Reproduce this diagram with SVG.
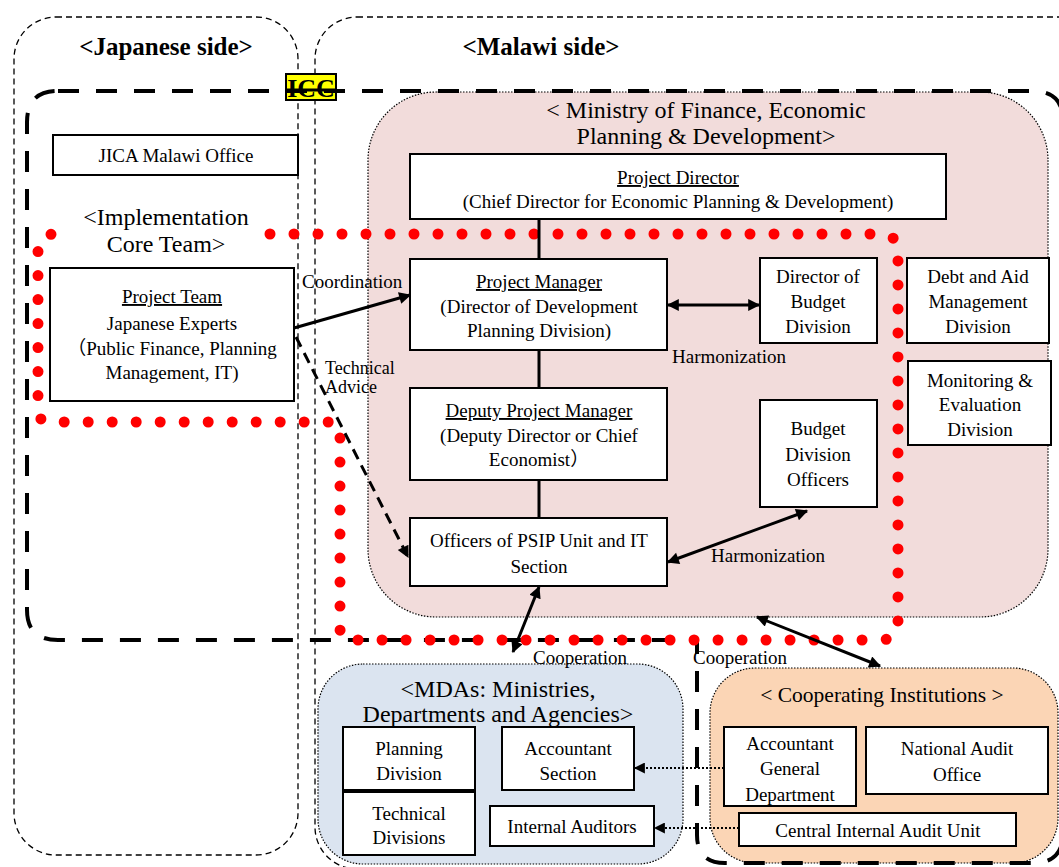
<svg xmlns="http://www.w3.org/2000/svg" width="1059" height="867" viewBox="0 0 1059 867">
  <defs>
    <style>
      .t{font-family:"Liberation Serif","Noto Sans CJK JP",serif;font-size:19px;fill:#000;text-anchor:middle}
      .s{text-anchor:start}
      .sm{font-size:18px}
      .ttl{font-size:24px}
      .hd{font-size:25px;font-weight:bold}
      .u{text-decoration:underline}
      .box{fill:#fff;stroke:#000;stroke-width:2}
      .side{fill:none;stroke:#000;stroke-width:1.3;stroke-dasharray:6 4}
      .grp{stroke:#000;stroke-width:1.2;stroke-dasharray:1.5 1.5}
      .ln{fill:none;stroke:#000;stroke-width:3}
      .dot{fill:none;stroke:#000;stroke-width:2;stroke-dasharray:2 2}
    </style>
    <marker id="ah" viewBox="0 0 10 10" refX="9" refY="5" markerWidth="15" markerHeight="12" markerUnits="userSpaceOnUse" orient="auto-start-reverse">
      <path d="M0,0 L10,5 L0,10 z" fill="#000"/>
    </marker>
    <marker id="ahs" viewBox="0 0 10 10" refX="9" refY="5" markerWidth="13" markerHeight="11" markerUnits="userSpaceOnUse" orient="auto-start-reverse">
      <path d="M0,0 L10,5 L0,10 z" fill="#000"/>
    </marker>
  </defs>
  <rect width="1059" height="867" fill="#fff"/>

  <!-- side containers -->
  <g id="japanese-side">
    <rect class="side" x="14" y="17" width="284" height="838" rx="42"/>
    <text class="t hd" x="166" y="55">&lt;Japanese side&gt;</text>
  </g>
  <g id="malawi-side">
    <rect class="side" x="315" y="17" width="800" height="852" rx="42"/>
    <text class="t hd" x="541" y="55">&lt;Malawi side&gt;</text>
  </g>

  <!-- organisation groups -->
  <g id="mofepd">
    <rect class="grp" x="368" y="92" width="680" height="525" rx="68" fill="#f2dcdb"/>
    <text class="t ttl" x="706" y="118">&lt; Ministry of Finance, Economic</text>
    <text class="t ttl" x="706" y="144">Planning &amp; Development&gt;</text>
  </g>
  <g id="mdas">
    <rect class="grp" x="318" y="664" width="365" height="200" rx="45" fill="#dbe4f0"/>
    <text class="t ttl" x="498" y="697">&lt;MDAs: Ministries,</text>
    <text class="t ttl" x="498" y="722">Departments and Agencies&gt;</text>
  </g>
  <g id="cooperating-institutions">
    <rect class="grp" x="710" y="668" width="348" height="195" rx="45" fill="#fbd5b5"/>
    <text class="t" style="font-size:21.5px" x="882" y="702">&lt; Cooperating Institutions &gt;</text>
  </g>

  <!-- ICC boundary -->
  <g id="icc">
    <rect x="286" y="74" width="50" height="26" fill="#ffff00" stroke="#000" stroke-width="2"/>
    <text class="t" style="font-size:26px;font-weight:bold" x="311" y="97">ICC</text>
    <path d="M58,91 H1033 Q1063,91 1063,121 V833 Q1063,863 1033,863 H725 Q697,863 697,835 V640 H58 Q27,640 27,610 V122 Q27,91 58,91 Z" fill="none" stroke="#000" stroke-width="4" stroke-dasharray="21 17"/>
    <line x1="286" y1="90" x2="336" y2="90" stroke="#000" stroke-width="3"/>
  </g>

  <!-- Implementation Core Team boundary -->
  <g id="core-team">
    <path d="M270,234 H880 Q898,234 898,252 V622 Q898,640 880,640 H349 Q340,640 340,628 V432 Q340,422 330,422 H50 Q38,422 38,410 V250 Q38,236 53,234" fill="none" stroke="#ff0000" stroke-width="11" stroke-linecap="round" stroke-dasharray="0 24"/>
    <text class="t ttl" x="166" y="225">&lt;Implementation</text>
    <text class="t ttl" x="166" y="252">Core Team&gt;</text>
  </g>

  <!-- connectors -->
  <g id="connectors">
    <line class="ln" x1="539" y1="219" x2="539" y2="259"/>
    <line class="ln" x1="539" y1="350" x2="539" y2="388"/>
    <line class="ln" x1="539" y1="480" x2="539" y2="518"/>
    <line class="ln" x1="294" y1="328" x2="410" y2="295" marker-end="url(#ah)"/>
    <line x1="296" y1="337" x2="408" y2="557" stroke="#000" stroke-width="3" stroke-dasharray="11 7" marker-end="url(#ah)"/>
    <line class="ln" x1="668" y1="305" x2="759" y2="305" marker-start="url(#ah)" marker-end="url(#ah)"/>
    <line class="ln" x1="668" y1="562" x2="807" y2="511" marker-start="url(#ah)" marker-end="url(#ah)"/>
    <line class="ln" x1="539" y1="587" x2="513" y2="652" marker-start="url(#ah)" marker-end="url(#ah)"/>
    <line class="ln" x1="757" y1="617" x2="880" y2="666" marker-start="url(#ah)" marker-end="url(#ah)"/>
    <line class="dot" x1="724" y1="768" x2="635" y2="768" marker-end="url(#ahs)"/>
    <line class="dot" x1="739" y1="828" x2="655" y2="828" marker-end="url(#ahs)"/>
    <text class="t s" x="302" y="288">Coordination</text>
    <text class="t s sm" x="325" y="374">Technical</text>
    <text class="t s sm" x="325" y="393">Advice</text>
    <text class="t" x="729" y="363">Harmonization</text>
    <text class="t" x="768" y="562">Harmonization</text>
    <text class="t" x="580" y="664">Cooperation</text>
    <text class="t" x="740" y="664">Cooperation</text>
  </g>

  <!-- nodes -->
  <g id="jica-office">
    <rect class="box" x="53" y="135" width="245" height="40"/>
    <text class="t" x="176" y="162">JICA Malawi Office</text>
  </g>
  <g id="project-team">
    <rect class="box" x="50" y="268" width="244" height="133"/>
    <text class="t u" x="172" y="303">Project Team</text>
    <text class="t" x="172" y="330">Japanese Experts</text>
    <text class="t" x="172" y="355">（Public Finance, Planning</text>
    <text class="t" x="172" y="379">Management, IT)</text>
  </g>
  <g id="project-director">
    <rect class="box" x="410" y="154" width="536" height="65"/>
    <text class="t u" x="678" y="184">Project Director</text>
    <text class="t" x="678" y="208">(Chief Director for Economic Planning &amp; Development)</text>
  </g>
  <g id="project-manager">
    <rect class="box" x="410" y="259" width="257" height="91"/>
    <text class="t u" x="539" y="288">Project Manager</text>
    <text class="t" x="539" y="313">(Director of Development</text>
    <text class="t" x="539" y="337">Planning Division)</text>
  </g>
  <g id="director-budget">
    <rect class="box" x="760" y="258" width="117" height="85"/>
    <text class="t" x="818" y="283">Director of</text>
    <text class="t" x="818" y="308">Budget</text>
    <text class="t" x="818" y="333">Division</text>
  </g>
  <g id="debt-aid">
    <rect class="box" x="907" y="258" width="142" height="85"/>
    <text class="t" x="978" y="283">Debt and Aid</text>
    <text class="t" x="978" y="308">Management</text>
    <text class="t" x="978" y="333">Division</text>
  </g>
  <g id="monitoring-evaluation">
    <rect class="box" x="908" y="361" width="143" height="84"/>
    <text class="t" x="980" y="387">Monitoring &amp;</text>
    <text class="t" x="980" y="411">Evaluation</text>
    <text class="t" x="980" y="436">Division</text>
  </g>
  <g id="deputy-project-manager">
    <rect class="box" x="410" y="388" width="257" height="92"/>
    <text class="t u" x="539" y="417">Deputy Project Manager</text>
    <text class="t" x="539" y="442">(Deputy Director or Chief</text>
    <text class="t" x="539" y="466">Economist）</text>
  </g>
  <g id="budget-officers">
    <rect class="box" x="760" y="400" width="117" height="107"/>
    <text class="t" x="818" y="435">Budget</text>
    <text class="t" x="818" y="461">Division</text>
    <text class="t" x="818" y="486">Officers</text>
  </g>
  <g id="psip-officers">
    <rect class="box" x="410" y="518" width="257" height="68"/>
    <text class="t" x="539" y="547">Officers of PSIP Unit and IT</text>
    <text class="t" x="539" y="573">Section</text>
  </g>
  <g id="planning-division">
    <rect class="box" x="343" y="727" width="132" height="63"/>
    <text class="t" x="409" y="755">Planning</text>
    <text class="t" x="409" y="780">Division</text>
  </g>
  <g id="technical-divisions">
    <rect class="box" x="343" y="792" width="132" height="63"/>
    <text class="t" x="409" y="820">Technical</text>
    <text class="t" x="409" y="844">Divisions</text>
  </g>
  <g id="accountant-section">
    <rect class="box" x="502" y="727" width="132" height="63"/>
    <text class="t" x="568" y="755">Accountant</text>
    <text class="t" x="568" y="780">Section</text>
  </g>
  <g id="internal-auditors">
    <rect class="box" x="490" y="806" width="164" height="40"/>
    <text class="t" x="572" y="833">Internal Auditors</text>
  </g>
  <g id="accountant-general">
    <rect class="box" x="724" y="727" width="132" height="79"/>
    <text class="t" x="790" y="750">Accountant</text>
    <text class="t" x="790" y="775">General</text>
    <text class="t" x="790" y="801">Department</text>
  </g>
  <g id="national-audit">
    <rect class="box" x="866" y="727" width="182" height="67"/>
    <text class="t" x="957" y="755">National Audit</text>
    <text class="t" x="957" y="781">Office</text>
  </g>
  <g id="ciau">
    <rect class="box" x="739" y="813" width="277" height="33"/>
    <text class="t" x="878" y="837">Central Internal Audit Unit</text>
  </g>
</svg>
